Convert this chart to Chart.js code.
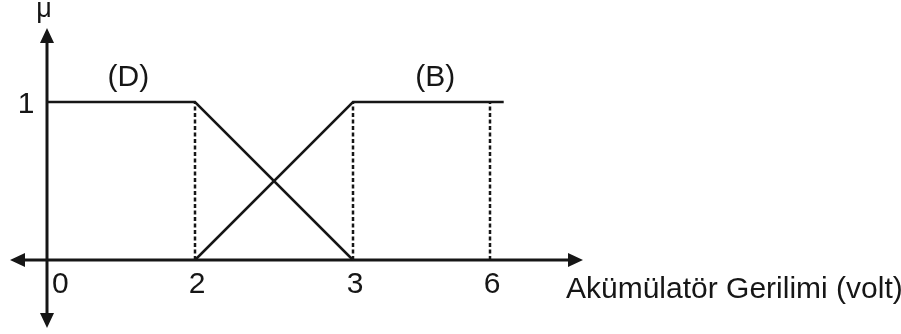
<!DOCTYPE html>
<html>
<head>
<meta charset="utf-8">
<script src="https://cdn.jsdelivr.net/npm/chart.js@4/dist/chart.umd.min.js"></script>
<style>
    html, body { margin: 0; padding: 0; background: #fff; }
    #wrap { width: 901px; height: 334px; }
</style>
</head>
<body>
<div id="wrap"><canvas id="muChart" width="901" height="334"></canvas></div>
<script>
// tick labels on the axes
const xTickValues = [0, 2, 3, 6];
const yTickValues = [1];

// membership function (D)
const dVolt = [0, 2, 3];
const dMu = [1, 1, 0];

// membership function (B)
const bVolt = [2, 3, 6.3];
const bMu = [0, 1, 1];

// dashed guide lines
const guideVolt = [2, 3, 6];

// set names and where they sit
const setNames = ["(D)", "(B)"];
const setNameVolt = [1.1, 4.8];
const setNameMu = [1.17, 1.17];

const axisTitle = "Akümülatör Gerilimi (volt)";
const muTitle = "μ";

const ink = "#161616";
const font = "'Liberation Sans', Arial, sans-serif";

// linear scale whose segments between the break values get their own widths
class PiecewiseScale extends Chart.LinearScale {
    _stops() {
        const vals = this.options.breaks;
        const w = this.options.widths;
        const total = w.reduce((a, b) => a + b, 0);
        const fr = [0];
        w.forEach(x => fr.push(fr[fr.length - 1] + x / total));
        return { vals, fr };
    }
    getPixelForValue(value) {
        const { vals, fr } = this._stops();
        let i = 0;
        while (i < vals.length - 2 && value > vals[i + 1]) i++;
        const t = (value - vals[i]) / (vals[i + 1] - vals[i]);
        return this.getPixelForDecimal(fr[i] + t * (fr[i + 1] - fr[i]));
    }
    getValueForPixel(pixel) {
        const { vals, fr } = this._stops();
        const d = this.getDecimalForPixel(pixel);
        let i = 0;
        while (i < fr.length - 2 && d > fr[i + 1]) i++;
        const t = (d - fr[i]) / (fr[i + 1] - fr[i]);
        return vals[i] + t * (vals[i + 1] - vals[i]);
    }
}
PiecewiseScale.id = "piecewise";
PiecewiseScale.defaults = Chart.LinearScale.defaults;
Chart.register(PiecewiseScale);

const toPoints = (xs, ys) => xs.map((x, i) => ({ x: x, y: ys[i] }));

const guideSets = guideVolt.map(v => ({
    data: toPoints([v, v], [0, 1]),
    borderColor: ink,
    borderWidth: 2.5,
    borderDash: [4, 2.5],
    pointRadius: 0,
    clip: false
}));

function arrow(ctx, tipX, tipY, dx, dy) {
    // dx, dy: direction of the arrow
    const len = 15, half = 7;
    const bx = tipX - dx * len, by = tipY - dy * len;
    ctx.beginPath();
    ctx.moveTo(tipX, tipY);
    ctx.lineTo(bx + dy * half, by - dx * half);
    ctx.lineTo(bx - dy * half, by + dx * half);
    ctx.closePath();
    ctx.fill();
}

const axesPlugin = {
    id: "axesPlugin",
    beforeDatasetsDraw(chart) {
        const ctx = chart.ctx;
        const xs = chart.scales.x, ys = chart.scales.y;
        const x0 = xs.getPixelForValue(0);
        const y0 = ys.getPixelForValue(0);
        ctx.save();
        ctx.strokeStyle = ink;
        ctx.fillStyle = ink;
        ctx.lineWidth = 3;
        ctx.beginPath();
        ctx.moveTo(14, y0);
        ctx.lineTo(578, y0);
        ctx.moveTo(x0, 32);
        ctx.lineTo(x0, 324);
        ctx.stroke();
        arrow(ctx, 10, y0, -1, 0);
        arrow(ctx, 583, y0, 1, 0);
        arrow(ctx, x0, 28, 0, -1);
        arrow(ctx, x0, 328, 0, 1);
        ctx.restore();
    },
    afterDatasetsDraw(chart) {
        const ctx = chart.ctx;
        const xs = chart.scales.x, ys = chart.scales.y;
        const x0 = xs.getPixelForValue(0);
        ctx.save();
        ctx.fillStyle = ink;
        ctx.font = "30px " + font;
        ctx.textBaseline = "alphabetic";

        xTickValues.forEach(v => {
            const px = xs.getPixelForValue(v);
            if (v === 0) {
                ctx.textAlign = "left";
                ctx.fillText(String(v), px + 5, 293);
            } else {
                ctx.textAlign = "center";
                ctx.fillText(String(v), px + 2, 293);
            }
        });

        ctx.textAlign = "center";
        yTickValues.forEach(v => {
            ctx.fillText(String(v), 26, ys.getPixelForValue(v) + 11);
        });

        setNames.forEach((name, i) => {
            ctx.fillText(name, xs.getPixelForValue(setNameVolt[i]), ys.getPixelForValue(setNameMu[i]) + 11);
        });

        ctx.textAlign = "left";
        ctx.fillText(axisTitle, 566, 298);

        ctx.textAlign = "center";
        ctx.font = "27px " + font;
        ctx.fillText(muTitle, x0 - 3, 17);
        ctx.restore();
    }
};

new Chart(document.getElementById("muChart"), {
    type: "line",
    data: {
        datasets: guideSets.concat([
            {
                label: "D",
                data: toPoints(dVolt, dMu),
                borderColor: ink,
                borderWidth: 2.5,
                pointRadius: 0,
                tension: 0,
                clip: false
            },
            {
                label: "B",
                data: toPoints(bVolt, bMu),
                borderColor: ink,
                borderWidth: 2.5,
                pointRadius: 0,
                tension: 0,
                clip: false
            }
        ])
    },
    options: {
        responsive: false,
        animation: false,
        events: [],
        layout: {
            padding: { left: 47, right: 411, top: 102, bottom: 74 }
        },
        plugins: {
            legend: { display: false },
            tooltip: { enabled: false }
        },
        scales: {
            x: {
                type: "piecewise",
                display: false,
                min: 0,
                max: 6,
                breaks: xTickValues,
                widths: [148, 158, 137]
            },
            y: {
                type: "linear",
                display: false,
                min: 0,
                max: 1
            }
        }
    },
    plugins: [axesPlugin]
});
</script>
</body>
</html>
